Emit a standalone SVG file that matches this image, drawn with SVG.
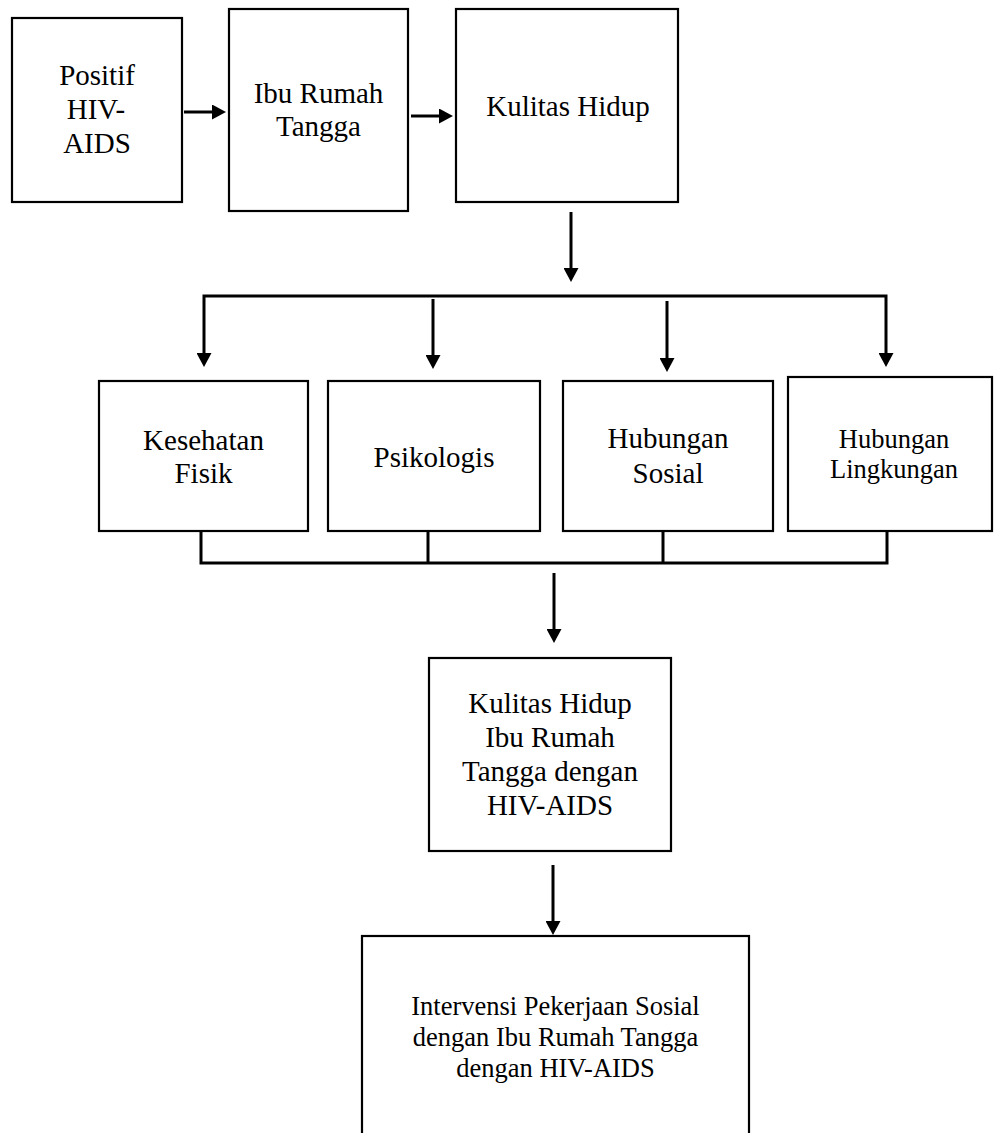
<svg xmlns="http://www.w3.org/2000/svg" width="994" height="1133" viewBox="0 0 994 1133">
<style>
.box{fill:#fff;stroke:#000;stroke-width:2.2}
.t{font-family:"Liberation Serif","Times New Roman",serif;font-size:29px;fill:#000;text-anchor:middle}
.s{font-size:26.5px}
.c{fill:none;stroke:#000;stroke-width:3}
</style>
<defs>
<marker id="ah" markerUnits="userSpaceOnUse" markerWidth="15" markerHeight="15" viewBox="0 0 14 15" refX="0" refY="7.5" orient="auto-start-reverse">
<path d="M0,0 L14,7.5 L0,15 z" fill="#000"/>
</marker>
</defs>
<rect width="994" height="1133" fill="#fff"/>
<g id="connectors">
<line class="c" x1="184" y1="112" x2="212" y2="112" marker-end="url(#ah)"/>
<line class="c" x1="411" y1="116" x2="439" y2="116" marker-end="url(#ah)"/>
<line class="c" x1="571" y1="212" x2="571" y2="268" marker-end="url(#ah)"/>
<path class="c" d="M204,353 L204,296 L886,296 L886,353" marker-start="url(#ah)" marker-end="url(#ah)"/>
<line class="c" x1="433" y1="299" x2="433" y2="355" marker-end="url(#ah)"/>
<line class="c" x1="667" y1="301" x2="667" y2="358" marker-end="url(#ah)"/>
<path class="c" d="M201,531 L201,563 L887,563 L887,531"/>
<line class="c" x1="428" y1="531" x2="428" y2="563"/>
<line class="c" x1="663" y1="531" x2="663" y2="563"/>
<line class="c" x1="554" y1="573" x2="554" y2="629" marker-end="url(#ah)"/>
<line class="c" x1="553" y1="865" x2="553" y2="921" marker-end="url(#ah)"/>
</g>
<g id="n1"><rect class="box" x="12" y="18" width="170" height="184"/>
<text class="t" x="97" y="85">Positif</text><text class="t" x="96" y="119">HIV-</text><text class="t" x="97" y="153">AIDS</text></g>
<g id="n2"><rect class="box" x="229" y="9" width="179" height="202"/>
<text class="t" x="318.5" y="103">Ibu Rumah</text><text class="t" x="318.5" y="136">Tangga</text></g>
<g id="n3"><rect class="box" x="456" y="9" width="222" height="193"/>
<text class="t" x="568" y="116">Kulitas Hidup</text></g>
<g id="n4"><rect class="box" x="99" y="381" width="209" height="150"/>
<text class="t" x="203.5" y="450">Kesehatan</text><text class="t" x="203.5" y="483">Fisik</text></g>
<g id="n5"><rect class="box" x="328" y="381" width="212" height="150"/>
<text class="t" x="434" y="467">Psikologis</text></g>
<g id="n6"><rect class="box" x="563" y="381" width="210" height="150"/>
<text class="t" x="668" y="448">Hubungan</text><text class="t" x="668" y="483">Sosial</text></g>
<g id="n7"><rect class="box" x="788" y="377" width="204" height="154"/>
<text class="t s" x="894" y="448">Hubungan</text><text class="t s" x="894" y="478">Lingkungan</text></g>
<g id="n8"><rect class="box" x="429" y="658" width="242" height="193"/>
<text class="t" x="550" y="713">Kulitas Hidup</text><text class="t" x="550" y="747">Ibu Rumah</text><text class="t" x="550" y="781">Tangga dengan</text><text class="t" x="550" y="815">HIV-AIDS</text></g>
<g id="n9"><rect class="box" x="362" y="936" width="387" height="220"/>
<text class="t s" x="555.5" y="1015">Intervensi Pekerjaan Sosial</text><text class="t s" x="555.5" y="1046">dengan Ibu Rumah Tangga</text><text class="t s" x="555.5" y="1077">dengan HIV-AIDS</text></g>
</svg>
